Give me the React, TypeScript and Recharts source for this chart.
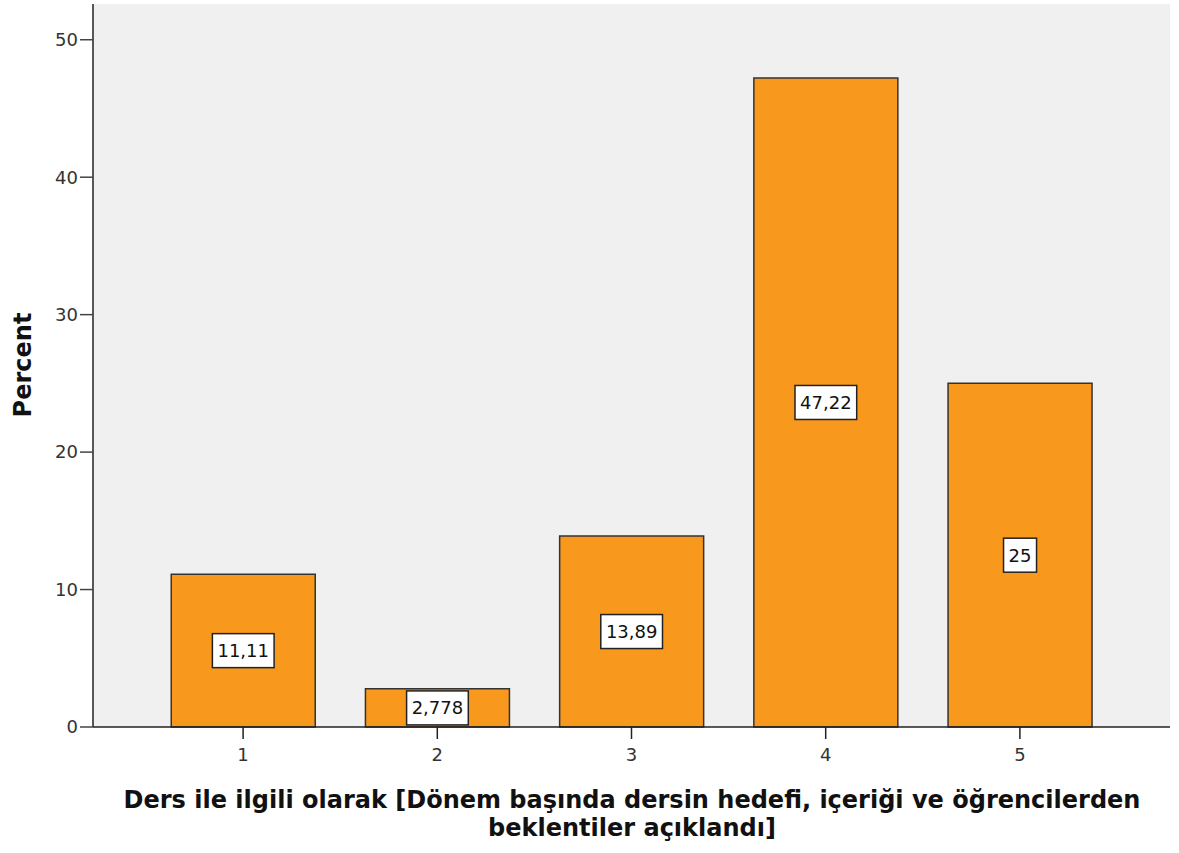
import { Bar, BarChart, XAxis, YAxis, CartesianGrid, LabelList } from 'recharts';

const categories = ['1', '2', '3', '4', '5'];
const percents = [11.11, 2.778, 13.89, 47.22, 25];
const percentLabels = ['11,11', '2,778', '13,89', '47,22', '25'];
const yTicks = [0, 10, 20, 30, 40, 50];

const data = categories.map((c, i) => ({ name: c, value: percents[i], label: percentLabels[i] }));

const FONT = '"DejaVu Sans", sans-serif';

const ValueBox = (props: any) => {
    const { x, y, width, height, index } = props;
    const text = percentLabels[index];
    const digits = text.replace(',', '').length;
    const w = digits * 11.5 + (text.includes(',') ? 5.7 : 0) + 10;
    const h = 34;
    const cx = x + width / 2;
    const cy = y + height / 2;
    return (
        <g>
            <rect x={cx - w / 2} y={cy - h / 2} width={w} height={h} fill="#ffffff" stroke="#222" strokeWidth={1.5} />
            <text x={cx} y={cy + 6.5} textAnchor="middle" fontSize={18} fontFamily={FONT} fill="#111">{text}</text>
        </g>
    );
};

export default function App() {
    return (
        <div style={{ position: 'absolute', left: 0, top: 0, width: 1179, height: 853, background: '#fff' }}>
            <BarChart
                width={1179}
                height={853}
                data={data}
                margin={{ top: 4, right: 9, left: 93 - 60, bottom: 126 - 12 }}
                barCategoryGap="13%"
            >
                <CartesianGrid horizontal={false} vertical={false} fill="#f0f0f0" stroke="#888" />
                <XAxis
                    xAxisId="top"
                    orientation="top"
                    dataKey="name"
                    tick={false}
                    tickLine={false}
                    height={0}
                    axisLine={{ stroke: '#777', strokeWidth: 2 }}
                />
                <YAxis
                    yAxisId="right"
                    orientation="right"
                    tick={false}
                    tickLine={false}
                    width={0}
                    domain={[0, 52.6]}
                    axisLine={{ stroke: '#777', strokeWidth: 2 }}
                />
                <XAxis
                    dataKey="name"
                    padding={{ left: 53, right: 53 }}
                    tickSize={12}
                    tickMargin={9}
                    height={12}
                    fontSize={18}
                    fontFamily={FONT}
                    axisLine={{ stroke: '#222', strokeWidth: 1.5 }}
                    tickLine={{ stroke: '#222', strokeWidth: 1.5 }}
                    tick={{ fill: '#333', fontSize: 18, fontFamily: FONT }}
                    label={{
                        content: () => (
                            <g>
                                <text x={632} y={808} textAnchor="middle" fontSize={24} fontWeight="bold" fontFamily={FONT} fill="#111">
                                    Ders ile ilgili olarak [Dönem başında dersin hedefi, içeriği ve öğrencilerden
                                </text>
                                <text x={632} y={836} textAnchor="middle" fontSize={24} fontWeight="bold" fontFamily={FONT} fill="#111">
                                    beklentiler açıklandı]
                                </text>
                            </g>
                        ),
                    }}
                />
                <YAxis
                    domain={[0, 52.6]}
                    ticks={yTicks}
                    width={60}
                    tickSize={13}
                    tickMargin={2}
                    fontSize={18}
                    fontFamily={FONT}
                    axisLine={{ stroke: '#222', strokeWidth: 1.5 }}
                    tickLine={{ stroke: '#444', strokeWidth: 1.5 }}
                    tick={{ fill: '#333', fontSize: 18, fontFamily: FONT }}
                    label={{
                        content: () => (
                            <text x={31} y={365} transform="rotate(-90 31 365)" textAnchor="middle" fontSize={24} fontWeight="bold" fontFamily={FONT} fill="#111">
                                Percent
                            </text>
                        ),
                    }}
                />
                <Bar dataKey="value" fill="#f8991d" stroke="#333" strokeWidth={1.5} isAnimationActive={false}>
                    <LabelList dataKey="label" content={<ValueBox />} />
                </Bar>
            </BarChart>
        </div>
    );
}
